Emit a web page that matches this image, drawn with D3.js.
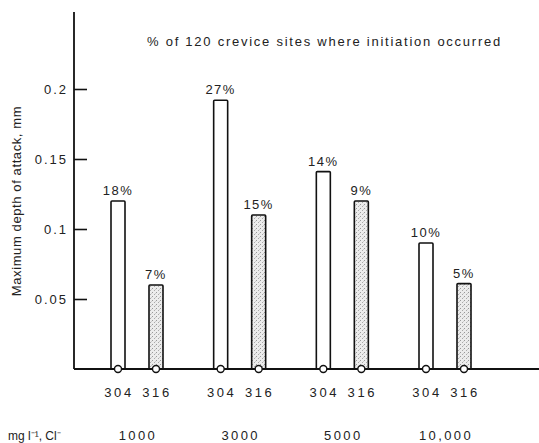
<!DOCTYPE html>
<html>
<head>
<meta charset="utf-8">
<script src="https://cdn.jsdelivr.net/npm/d3@7"></script>
<style>
  body { margin: 0; background: #fff; }
  svg text { font-family: "Liberation Sans", Arial, sans-serif; fill: #222; }
</style>
</head>
<body>
<svg id="chart" width="539" height="443"></svg>
<script>
// chloride concentrations (mg/l) and alloys
var concentrations = ["1000", "3000", "5000", "10,000"];
var alloys = ["304", "316"];
// maximum depth of attack, mm
var depth304 = [0.12, 0.192, 0.141, 0.09];
var depth316 = [0.06, 0.11, 0.12, 0.061];
// % of 120 crevice sites where initiation occurred
var pct304 = ["18%", "27%", "14%", "10%"];
var pct316 = ["7%", "15%", "9%", "5%"];
var yTicks = [0.05, 0.1, 0.15, 0.2];

var svg = d3.select("#chart");
var barwidth = 14;

var y = d3.scaleLinear().domain([0, 0.25]).range([369, 19]);
var x = d3.scalePoint().domain(concentrations).range([137, 445]);
var xAlloy = d3.scalePoint().domain(alloys).range([-19, 19]);

var rows = [];
concentrations.forEach(function (c, i) {
  rows.push({ conc: c, alloy: "304", depth: depth304[i], pct: pct304[i] });
  rows.push({ conc: c, alloy: "316", depth: depth316[i], pct: pct316[i] });
});

// stipple pattern for 316 bars
var defs = svg.append("defs");
var pat = defs.append("pattern")
  .attr("id", "stipple")
  .attr("patternUnits", "userSpaceOnUse")
  .attr("width", 4).attr("height", 4);
pat.append("rect").attr("width", 4).attr("height", 4).attr("fill", "#ececec");
pat.append("rect").attr("x", 0).attr("y", 0).attr("width", 1).attr("height", 1).attr("fill", "#999");
pat.append("rect").attr("x", 2).attr("y", 2).attr("width", 1).attr("height", 1).attr("fill", "#aaa");
pat.append("rect").attr("x", 3).attr("y", 1).attr("width", 1).attr("height", 1).attr("fill", "#ccc");

function cx(d) { return x(d.conc) + xAlloy(d.alloy); }

// bars
svg.append("g")
  .selectAll("rect")
  .data(rows)
  .enter()
  .append("rect")
  .attr("x", (d) => cx(d) - barwidth / 2)
  .attr("y", (d) => y(d.depth))
  .attr("width", barwidth)
  .attr("height", (d) => y(0) - y(d.depth))
  .attr("rx", 1)
  .attr("fill", (d) => (d.alloy == "316" ? "url(#stipple)" : "#fff"))
  .attr("stroke", "#111")
  .attr("stroke-width", 1.6);

// percent labels
svg.append("g")
  .selectAll("text")
  .data(rows)
  .enter()
  .append("text")
  .attr("x", (d) => cx(d))
  .attr("y", (d) => y(d.depth) - 6)
  .attr("text-anchor", "middle")
  .attr("font-size", 13)
  .attr("letter-spacing", 1.5)
  .text((d) => d.pct);

// y axis, ticks pointing inward
var yAxis = d3.axisLeft(y)
  .tickValues(yTicks)
  .tickSizeInner(-13)
  .tickSizeOuter(0)
  .tickPadding(6)
  .tickFormat((d) => String(d));
var gy = svg.append("g").attr("transform", "translate(74, 0)").call(yAxis);
gy.select(".domain").remove();
gy.selectAll(".tick line").attr("stroke", "#111").attr("stroke-width", 1.6);
gy.selectAll(".tick text")
  .attr("font-size", 13)
  .attr("letter-spacing", 2)
  .attr("fill", "#222");

svg.append("line")
  .attr("x1", 74).attr("x2", 74)
  .attr("y1", 12).attr("y2", y(0))
  .attr("stroke", "#111").attr("stroke-width", 1.8);

svg.append("line")
  .attr("x1", 74).attr("x2", 539)
  .attr("y1", y(0)).attr("y2", y(0))
  .attr("stroke", "#111").attr("stroke-width", 1.8);

// circles at bar bases
svg.append("g")
  .selectAll("circle")
  .data(rows)
  .enter()
  .append("circle")
  .attr("cx", (d) => cx(d))
  .attr("cy", y(0))
  .attr("r", 3.5)
  .attr("fill", "#fff")
  .attr("stroke", "#111")
  .attr("stroke-width", 1.4);

// alloy labels
svg.append("g")
  .selectAll("text")
  .data(rows)
  .enter()
  .append("text")
  .attr("x", (d) => cx(d) + 1)
  .attr("y", 397)
  .attr("text-anchor", "middle")
  .attr("font-size", 13)
  .attr("letter-spacing", 2.6)
  .text((d) => d.alloy);

// concentration labels
svg.append("g")
  .selectAll("text")
  .data(concentrations)
  .enter()
  .append("text")
  .attr("x", (d) => x(d) + 1)
  .attr("y", 440)
  .attr("text-anchor", "middle")
  .attr("font-size", 13)
  .attr("letter-spacing", 2.4)
  .text((d) => d);

svg.append("text")
  .attr("x", 8)
  .attr("y", 440)
  .attr("font-size", 12)
  .text("mg l\u207B\u00B9, Cl\u207B");

// title
svg.append("text")
  .attr("x", 147)
  .attr("y", 46)
  .attr("font-size", 13)
  .attr("letter-spacing", 1.75)
  .text("% of 120 crevice sites where initiation occurred");

// y axis label
svg.append("text")
  .attr("transform", "translate(21, 201) rotate(-90)")
  .attr("text-anchor", "middle")
  .attr("font-size", 13)
  .attr("letter-spacing", 0.6)
  .text("Maximum depth of attack, mm");
</script>
</body>
</html>
